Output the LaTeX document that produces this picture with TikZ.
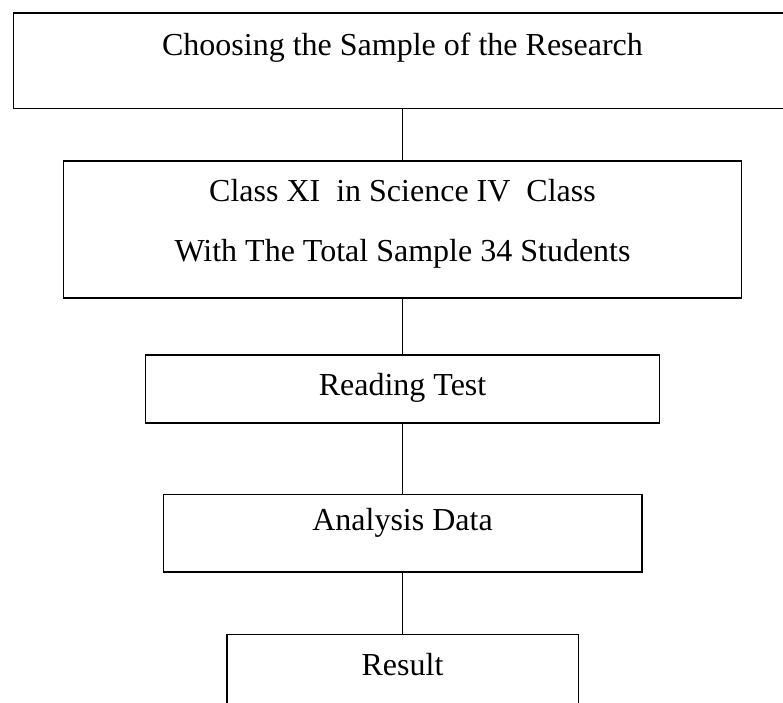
\documentclass[tikz,border=0pt]{standalone}
\usepackage{fontspec}
\setmainfont{Liberation Serif}

\tikzset{
    stage/.style={draw, line width=1.6pt, inner sep=0pt, anchor=base,
        font=\fontsize{32}{38}\selectfont},
    link/.style={line width=1.2pt}
}

\begin{document}
\begin{tikzpicture}[x=1pt, y=-1pt]
    \useasboundingbox (0,0) rectangle (783,702);
    \clip (0,0) rectangle (783,702);

    \node[stage, minimum width=778pt, text height=42pt, text depth=53.5pt]
        (sample) at (402.5, 55) {Choosing the Sample of the Research};
    \node[stage, minimum width=678pt, text height=40.7pt, text depth=96pt]
        (class) at (402.5, 201.7) {\begin{tabular}[t]{@{}c@{}}Class XI\ \ in Science IV\ \ Class\\[22pt]With The Total Sample 34 Students\end{tabular}};
    \node[stage, minimum width=514pt, text height=40pt, text depth=27.7pt]
        (test) at (402.5, 395) {Reading Test};
    \node[stage, minimum width=478.4pt, text height=36pt, text depth=41.4pt]
        (analysis) at (402.5, 530.3) {Analysis Data};
    \node[stage, minimum width=351.6pt, text height=40.7pt, text depth=60pt]
        (result) at (402.5, 675) {Result};

    \draw[link] (sample.south) -- (class.north);
    \draw[link] (class.south) -- (test.north);
    \draw[link] (test.south) -- (analysis.north);
    \draw[link] (analysis.south) -- (result.north);
\end{tikzpicture}
\end{document}
